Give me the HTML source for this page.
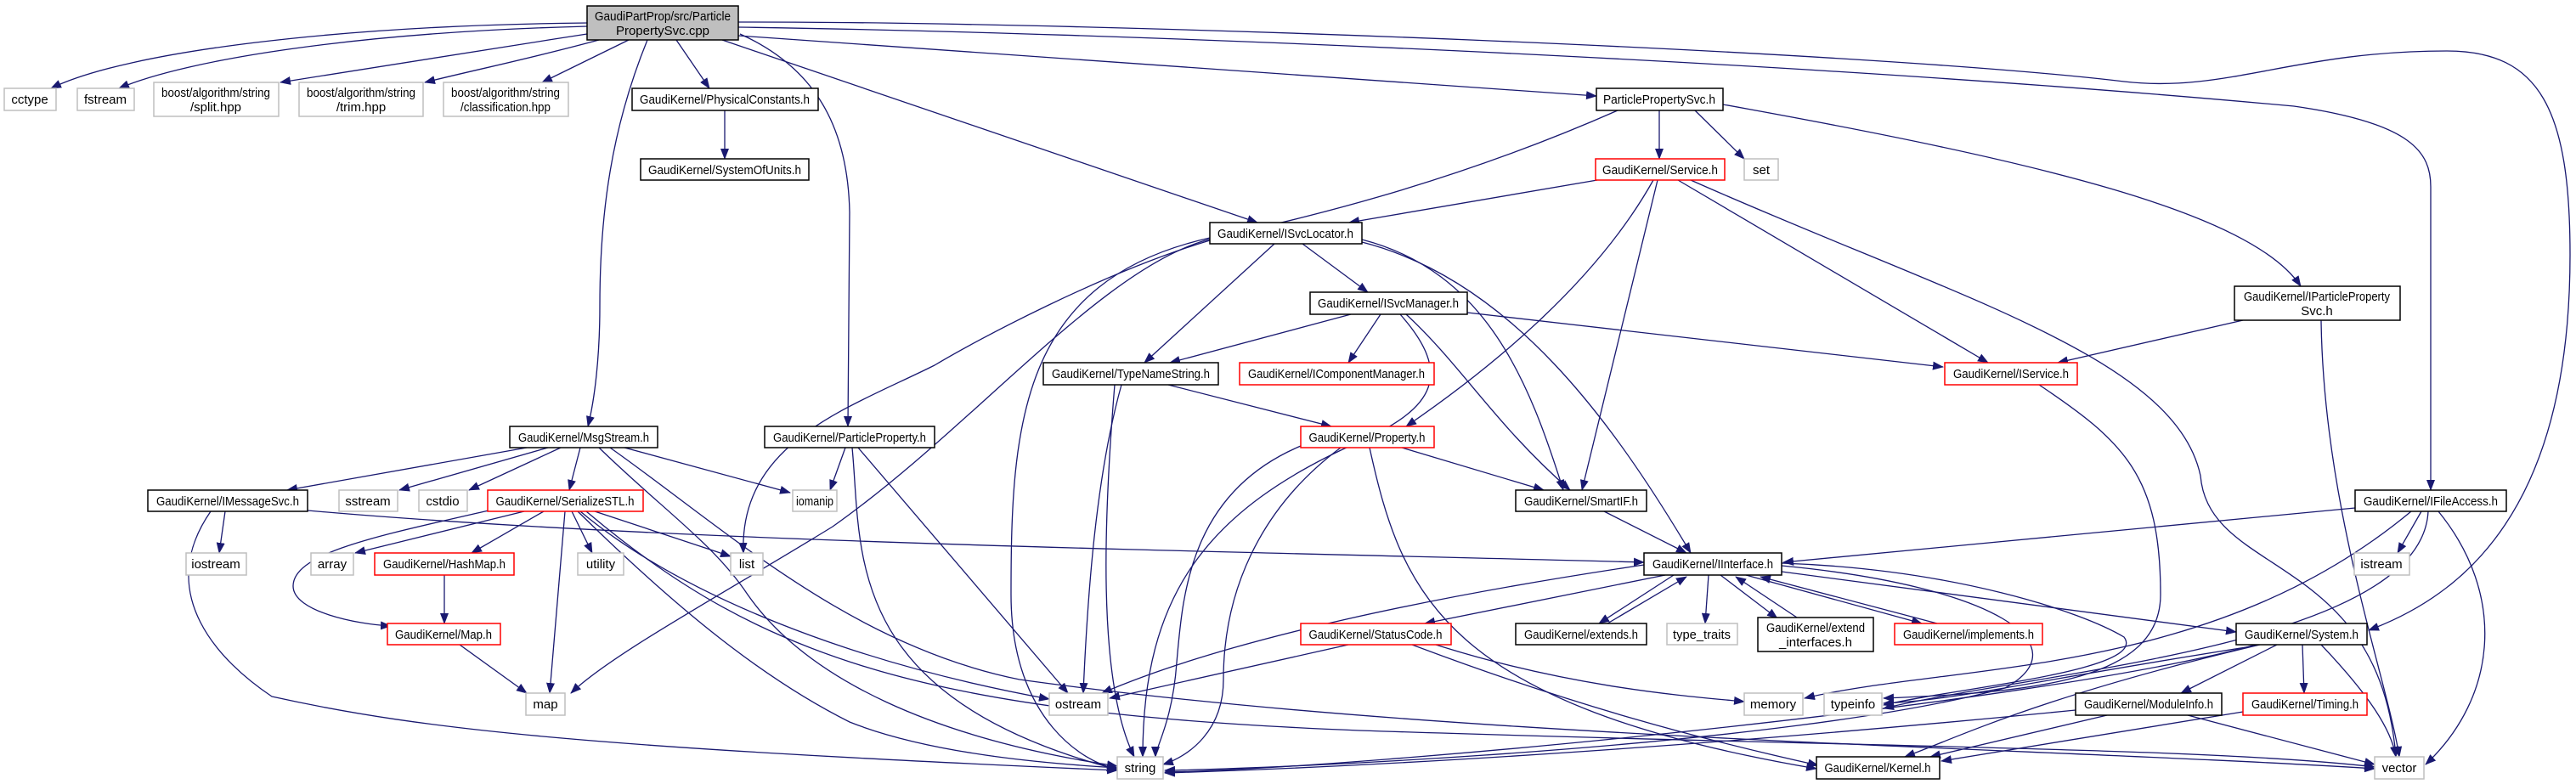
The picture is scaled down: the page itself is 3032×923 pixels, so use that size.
<!DOCTYPE html>
<html><head><meta charset="utf-8"><style>
html,body{margin:0;padding:0;background:#fff;}
svg{display:block;}
text{font-family:"Liberation Sans",sans-serif;font-size:15px;fill:#000;}
.e{fill:none;stroke:#191970;stroke-width:1.3;marker-end:url(#a);}
.g{fill:#fff;stroke:#bfbfbf;stroke-width:1.5;}
.b{fill:#fff;stroke:#000;stroke-width:1.5;}
.r{fill:#fff;stroke:#ff0000;stroke-width:1.5;}
</style></head><body>
<svg width="3032" height="923" viewBox="0 0 3032 923" xmlns="http://www.w3.org/2000/svg">
<defs><marker id="a" markerUnits="userSpaceOnUse" markerWidth="14" markerHeight="10" refX="12" refY="5" orient="auto"><path d="M0,0 L13,5 L0,10 z" fill="#191970"/></marker></defs>
<g>
<path class="e" d="M691,27 C400,30 150,60 60,104"/>
<path class="e" d="M691,31 C420,38 220,70 140,104"/>
<path class="e" d="M691,40 C550,62 400,85 330,97"/>
<path class="e" d="M705,47 C620,70 560,82 500,97"/>
<path class="e" d="M740,47 L638,97"/>
<path class="e" d="M796,47 L835,104"/>
<path class="e" d="M762,47 C720,150 706,250 706,360 C706,420 700,470 692,502"/>
<path class="e" d="M871,40 C960,80 998,150 1000,250 C1000,350 998,450 998,502"/>
<path class="e" d="M850,47 L1480,262"/>
<path class="e" d="M869,42 L1879,113"/>
<path class="e" d="M869,32 C1300,38 2100,70 2700,125 C2840,145 2861,180 2861,220 L2861,577"/>
<path class="e" d="M869,26 C1300,25 2200,60 2500,96 C2620,110 2700,60 2880,60 C2990,60 3025,130 3025,300 C3025,600 2900,700 2788,742"/>
<path class="e" d="M853,130 L853,187"/>
<path class="e" d="M1953,130 L1953,187"/>
<path class="e" d="M1995,130 L2053,187"/>
<path class="e" d="M2028,123 C2400,190 2650,250 2708,337"/>
<path class="e" d="M1904,130 C1700,220 1520,260 1430,280 C1300,310 1150,500 980,620 C850,700 720,770 672,816"/>
<path class="e" d="M1880,212 L1588,262"/>
<path class="e" d="M1946,212 C1880,330 1760,430 1655,502"/>
<path class="e" d="M1951,212 L1862,577"/>
<path class="e" d="M1975,212 L2340,427"/>
<path class="e" d="M1990,212 C2300,350 2560,420 2590,560 C2600,680 2800,650 2820,891"/>
<path class="e" d="M2400,453 C2500,520 2543,560 2543,700 C2543,800 2400,815 2217,822"/>
<path class="e" d="M1533,287 L1610,344"/>
<path class="e" d="M1500,287 L1347,427"/>
<path class="e" d="M1424,283 C1300,320 1150,400 1100,430 C1000,480 870,520 875,651"/>
<path class="e" d="M1424,280 C1200,330 1190,500 1190,700 C1190,850 1280,900 1315,905"/>
<path class="e" d="M1603,282 C1750,320 1800,450 1840,577"/>
<path class="e" d="M1603,285 C1780,330 1900,500 1990,651"/>
<path class="e" d="M1590,370 L1377,427"/>
<path class="e" d="M1625,370 L1587,427"/>
<path class="e" d="M1727,368 L2287,432"/>
<path class="e" d="M1655,370 C1720,430 1760,500 1848,577"/>
<path class="e" d="M1648,370 C1710,440 1690,480 1600,520 C1420,600 1345,700 1345,891"/>
<path class="e" d="M1375,453 L1567,502"/>
<path class="e" d="M1320,453 C1290,560 1280,700 1275,816"/>
<path class="e" d="M1312,453 C1300,600 1290,800 1335,891"/>
<path class="e" d="M2640,377 L2422,427"/>
<path class="e" d="M2732,377 C2735,600 2810,800 2824,891"/>
<path class="e" d="M620,527 L338,577"/>
<path class="e" d="M645,527 L470,577"/>
<path class="e" d="M660,527 L552,577"/>
<path class="e" d="M683,527 L670,577"/>
<path class="e" d="M735,527 L930,580"/>
<path class="e" d="M705,527 C780,600 840,640 880,700 C950,800 1100,870 1315,902"/>
<path class="e" d="M718,527 C850,620 1000,760 1200,800 C1700,870 2400,880 2795,905"/>
<path class="e" d="M995,527 L977,577"/>
<path class="e" d="M1010,527 L1257,816"/>
<path class="e" d="M1003,527 C1015,650 990,820 1315,906"/>
<path class="e" d="M265,602 L258,651"/>
<path class="e" d="M362,601 C800,640 1500,650 1935,662"/>
<path class="e" d="M248,602 C180,700 260,780 320,820 C500,860 700,880 1315,907"/>
<path class="e" d="M617,602 L418,651"/>
<path class="e" d="M640,602 L555,651"/>
<path class="e" d="M575,601 C450,630 345,650 345,690 C345,720 420,735 460,737"/>
<path class="e" d="M665,602 L647,816"/>
<path class="e" d="M673,602 L697,651"/>
<path class="e" d="M700,602 L860,655"/>
<path class="e" d="M683,602 C800,700 1000,780 1235,823"/>
<path class="e" d="M680,602 C800,720 900,800 1000,850 C1100,890 1250,900 1315,904"/>
<path class="e" d="M690,602 C900,780 1100,840 1600,860 C2200,880 2600,880 2795,903"/>
<path class="e" d="M523,677 L523,734"/>
<path class="e" d="M541,759 L620,816"/>
<path class="e" d="M1650,527 L1817,577"/>
<path class="e" d="M1531,525 C1400,580 1392,700 1385,780 C1380,850 1360,880 1360,891"/>
<path class="e" d="M1578,527 C1480,600 1440,700 1440,800 C1440,860 1400,890 1369,900"/>
<path class="e" d="M1612,527 C1650,700 1700,830 2138,905"/>
<path class="e" d="M1888,602 L1985,651"/>
<path class="e" d="M1935,665 C1700,700 1450,750 1297,816"/>
<path class="e" d="M1960,677 L1677,734"/>
<path class="e" d="M1970,677 L1882,734"/>
<path class="e" d="M1892,734 L1985,679"/>
<path class="e" d="M2011,677 L2007,734"/>
<path class="e" d="M2025,677 L2092,728"/>
<path class="e" d="M2115,727 L2043,679"/>
<path class="e" d="M2055,677 L2262,734"/>
<path class="e" d="M2280,734 L2072,679"/>
<path class="e" d="M2097,673 L2632,744"/>
<path class="e" d="M2097,663 C2300,670 2450,720 2500,750 C2530,790 2300,810 2217,830"/>
<path class="e" d="M2097,666 C2350,690 2450,760 2360,810 C2100,880 1500,905 1371,907"/>
<path class="e" d="M1587,759 L1306,822"/>
<path class="e" d="M1690,759 C1850,810 1990,820 2053,826"/>
<path class="e" d="M1662,759 C1850,830 2000,870 2140,901"/>
<path class="e" d="M2772,598 L2099,662"/>
<path class="e" d="M2850,602 L2822,651"/>
<path class="e" d="M2870,602 C2950,700 2940,820 2855,900"/>
<path class="e" d="M2838,602 C2600,800 2300,780 2124,822"/>
<path class="e" d="M2858,602 C2850,760 2400,790 2217,834"/>
<path class="e" d="M2680,759 L2567,816"/>
<path class="e" d="M2710,759 L2712,816"/>
<path class="e" d="M2732,759 C2790,820 2815,860 2820,891"/>
<path class="e" d="M2660,759 C2400,820 2300,870 2242,891"/>
<path class="e" d="M2655,759 C2400,830 1600,905 1371,909"/>
<path class="e" d="M2650,761 C2400,800 2300,825 2217,828"/>
<path class="e" d="M2480,842 L2272,891"/>
<path class="e" d="M2575,842 L2795,900"/>
<path class="e" d="M2443,836 C2100,870 1700,900 1371,910"/>
<path class="e" d="M2640,838 L2285,896"/>
</g>
<g>
<rect x="691" y="7" width="178" height="40" fill="#bfbfbf" stroke="#000" stroke-width="1.5"/>
<text x="780" y="24" text-anchor="middle" textLength="160" lengthAdjust="spacingAndGlyphs">GaudiPartProp/src/Particle</text>
<text x="780" y="41" text-anchor="middle">PropertySvc.cpp</text>

<rect class="g" x="5" y="104" width="61" height="26"/><text x="35" y="122" text-anchor="middle">cctype</text>
<rect class="g" x="91" y="104" width="67" height="26"/><text x="124" y="122" text-anchor="middle">fstream</text>
<rect class="g" x="181" y="97" width="147" height="40"/><text x="254" y="114" text-anchor="middle" textLength="128" lengthAdjust="spacingAndGlyphs">boost/algorithm/string</text><text x="254" y="131" text-anchor="middle">/split.hpp</text>
<rect class="g" x="352" y="97" width="146" height="40"/><text x="425" y="114" text-anchor="middle" textLength="128" lengthAdjust="spacingAndGlyphs">boost/algorithm/string</text><text x="425" y="131" text-anchor="middle">/trim.hpp</text>
<rect class="g" x="522" y="97" width="147" height="40"/><text x="595" y="114" text-anchor="middle" textLength="128" lengthAdjust="spacingAndGlyphs">boost/algorithm/string</text><text x="595" y="131" text-anchor="middle" textLength="106" lengthAdjust="spacingAndGlyphs">/classification.hpp</text>
<rect class="b" x="744" y="104" width="219" height="26"/><text x="853" y="122" text-anchor="middle" textLength="200" lengthAdjust="spacingAndGlyphs">GaudiKernel/PhysicalConstants.h</text>
<rect class="b" x="754" y="187" width="198" height="25"/><text x="853" y="205" text-anchor="middle" textLength="180" lengthAdjust="spacingAndGlyphs">GaudiKernel/SystemOfUnits.h</text>
<rect class="b" x="1879" y="104" width="149" height="26"/><text x="1953" y="122" text-anchor="middle" textLength="132" lengthAdjust="spacingAndGlyphs">ParticlePropertySvc.h</text>
<rect class="r" x="1878" y="187" width="152" height="25"/><text x="1954" y="205" text-anchor="middle" textLength="136" lengthAdjust="spacingAndGlyphs">GaudiKernel/Service.h</text>
<rect class="g" x="2053" y="187" width="40" height="25"/><text x="2073" y="205" text-anchor="middle">set</text>
<rect class="b" x="1424" y="262" width="179" height="25"/><text x="1513" y="280" text-anchor="middle" textLength="160" lengthAdjust="spacingAndGlyphs">GaudiKernel/ISvcLocator.h</text>
<rect class="b" x="1542" y="344" width="185" height="26"/><text x="1634" y="362" text-anchor="middle" textLength="166" lengthAdjust="spacingAndGlyphs">GaudiKernel/ISvcManager.h</text>
<rect class="b" x="1228" y="427" width="206" height="26"/><text x="1331" y="445" text-anchor="middle" textLength="186" lengthAdjust="spacingAndGlyphs">GaudiKernel/TypeNameString.h</text>
<rect class="r" x="1459" y="427" width="229" height="26"/><text x="1573" y="445" text-anchor="middle" textLength="208" lengthAdjust="spacingAndGlyphs">GaudiKernel/IComponentManager.h</text>
<rect class="b" x="2630" y="337" width="195" height="40"/><text x="2727" y="354" text-anchor="middle" textLength="172" lengthAdjust="spacingAndGlyphs">GaudiKernel/IParticleProperty</text><text x="2727" y="371" text-anchor="middle">Svc.h</text>
<rect class="r" x="2289" y="427" width="156" height="26"/><text x="2367" y="445" text-anchor="middle" textLength="136" lengthAdjust="spacingAndGlyphs">GaudiKernel/IService.h</text>
<rect class="b" x="600" y="502" width="174" height="25"/><text x="687" y="520" text-anchor="middle" textLength="154" lengthAdjust="spacingAndGlyphs">GaudiKernel/MsgStream.h</text>
<rect class="b" x="900" y="502" width="200" height="25"/><text x="1000" y="520" text-anchor="middle" textLength="180" lengthAdjust="spacingAndGlyphs">GaudiKernel/ParticleProperty.h</text>
<rect class="r" x="1531" y="502" width="157" height="25"/><text x="1609" y="520" text-anchor="middle" textLength="137" lengthAdjust="spacingAndGlyphs">GaudiKernel/Property.h</text>
<rect class="b" x="174" y="577" width="188" height="25"/><text x="268" y="595" text-anchor="middle" textLength="168" lengthAdjust="spacingAndGlyphs">GaudiKernel/IMessageSvc.h</text>
<rect class="g" x="399" y="577" width="69" height="25"/><text x="433" y="595" text-anchor="middle">sstream</text>
<rect class="g" x="493" y="577" width="57" height="25"/><text x="521" y="595" text-anchor="middle">cstdio</text>
<rect class="r" x="574" y="577" width="183" height="25"/><text x="665" y="595" text-anchor="middle" textLength="163" lengthAdjust="spacingAndGlyphs">GaudiKernel/SerializeSTL.h</text>
<rect class="g" x="933" y="577" width="52" height="25"/><text x="959" y="595" text-anchor="middle" textLength="44" lengthAdjust="spacingAndGlyphs">iomanip</text>
<rect class="b" x="1784" y="577" width="154" height="25"/><text x="1861" y="595" text-anchor="middle" textLength="134" lengthAdjust="spacingAndGlyphs">GaudiKernel/SmartIF.h</text>
<rect class="b" x="2772" y="577" width="178" height="25"/><text x="2861" y="595" text-anchor="middle" textLength="158" lengthAdjust="spacingAndGlyphs">GaudiKernel/IFileAccess.h</text>
<rect class="g" x="219" y="651" width="71" height="26"/><text x="254" y="669" text-anchor="middle">iostream</text>
<rect class="g" x="366" y="651" width="50" height="26"/><text x="391" y="669" text-anchor="middle">array</text>
<rect class="r" x="441" y="651" width="164" height="26"/><text x="523" y="669" text-anchor="middle" textLength="144" lengthAdjust="spacingAndGlyphs">GaudiKernel/HashMap.h</text>
<rect class="g" x="680" y="651" width="54" height="26"/><text x="707" y="669" text-anchor="middle">utility</text>
<rect class="g" x="860" y="651" width="38" height="26"/><text x="879" y="669" text-anchor="middle">list</text>
<rect class="b" x="1935" y="651" width="162" height="26"/><text x="2016" y="669" text-anchor="middle" textLength="142" lengthAdjust="spacingAndGlyphs">GaudiKernel/IInterface.h</text>
<rect class="g" x="2771" y="651" width="65" height="26"/><text x="2803" y="669" text-anchor="middle">istream</text>
<rect class="r" x="456" y="734" width="133" height="25"/><text x="522" y="752" text-anchor="middle" textLength="114" lengthAdjust="spacingAndGlyphs">GaudiKernel/Map.h</text>
<rect class="r" x="1531" y="734" width="177" height="25"/><text x="1619" y="752" text-anchor="middle" textLength="157" lengthAdjust="spacingAndGlyphs">GaudiKernel/StatusCode.h</text>
<rect class="b" x="1784" y="734" width="154" height="25"/><text x="1861" y="752" text-anchor="middle" textLength="134" lengthAdjust="spacingAndGlyphs">GaudiKernel/extends.h</text>
<rect class="g" x="1962" y="734" width="83" height="25"/><text x="2003" y="752" text-anchor="middle" textLength="68" lengthAdjust="spacingAndGlyphs">type_traits</text>
<rect class="b" x="2069" y="727" width="136" height="40"/><text x="2137" y="744" text-anchor="middle" textLength="116" lengthAdjust="spacingAndGlyphs">GaudiKernel/extend</text><text x="2137" y="761" text-anchor="middle">_interfaces.h</text>
<rect class="r" x="2230" y="734" width="174" height="25"/><text x="2317" y="752" text-anchor="middle" textLength="154" lengthAdjust="spacingAndGlyphs">GaudiKernel/implements.h</text>
<rect class="b" x="2632" y="734" width="154" height="25"/><text x="2709" y="752" text-anchor="middle" textLength="134" lengthAdjust="spacingAndGlyphs">GaudiKernel/System.h</text>
<rect class="g" x="619" y="816" width="46" height="26"/><text x="642" y="834" text-anchor="middle">map</text>
<rect class="g" x="1235" y="816" width="69" height="26"/><text x="1269" y="834" text-anchor="middle">ostream</text>
<rect class="g" x="2053" y="816" width="69" height="26"/><text x="2087" y="834" text-anchor="middle">memory</text>
<rect class="g" x="2147" y="816" width="68" height="26"/><text x="2181" y="834" text-anchor="middle">typeinfo</text>
<rect class="b" x="2443" y="816" width="172" height="26"/><text x="2529" y="834" text-anchor="middle" textLength="152" lengthAdjust="spacingAndGlyphs">GaudiKernel/ModuleInfo.h</text>
<rect class="r" x="2640" y="816" width="146" height="26"/><text x="2713" y="834" text-anchor="middle" textLength="126" lengthAdjust="spacingAndGlyphs">GaudiKernel/Timing.h</text>
<rect class="g" x="1315" y="891" width="54" height="26"/><text x="1342" y="909" text-anchor="middle">string</text>
<rect class="b" x="2138" y="891" width="145" height="26"/><text x="2210" y="909" text-anchor="middle" textLength="125" lengthAdjust="spacingAndGlyphs">GaudiKernel/Kernel.h</text>
<rect class="g" x="2795" y="891" width="58" height="26"/><text x="2824" y="909" text-anchor="middle">vector</text>
</g>
</svg>
</body></html>
